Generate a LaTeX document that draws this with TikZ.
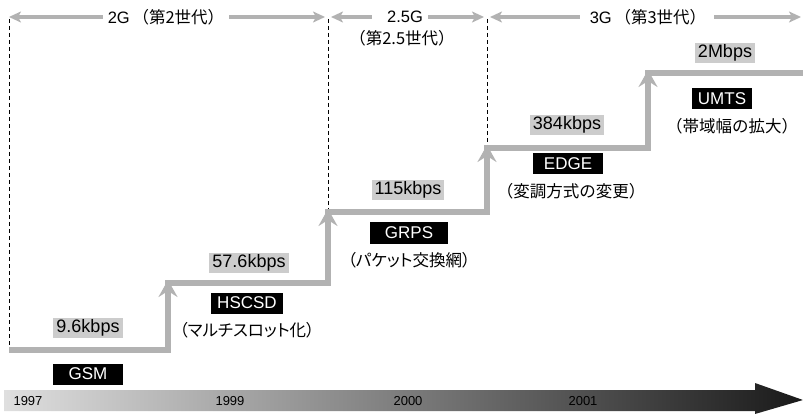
\documentclass[tikz,border=0pt]{standalone}
\usepackage{fontspec}
\setmainfont{Liberation Sans}
\newfontfamily\jp{Noto Sans CJK JP}
\newfontfamily\jpprop[RawFeature=+palt]{Noto Sans CJK JP}
\usetikzlibrary{calc, positioning}
\usetikzlibrary{arrows.meta}

\begin{document}
\begin{tikzpicture}[x=1pt,y=-1pt,
  band/.style={draw=gray!60, line width=6pt},
  riserhead/.style={draw=gray!60, line width=6pt, -{Stealth[length=17pt,width=19pt,inset=6pt]}},
  eraarrow/.style={draw=gray!60, line width=4.5pt, -{Stealth[length=12pt,width=11pt,inset=3pt]}},
  divider/.style={black, line width=0.6pt, dash pattern=on 4pt off 3pt},
  rate/.style={fill=gray!40, inner xsep=3pt, inner ysep=0pt, minimum height=20pt, font=\fontsize{18}{18}\selectfont},
  system/.style={fill=black, text=white, inner xsep=6pt, inner ysep=0pt, minimum height=21pt, minimum width=70pt, font=\fontsize{17}{17}\selectfont},
  note/.style={inner sep=0pt, font=\jp\fontsize{16.5}{16.5}\selectfont},
  kananote/.style={inner sep=0pt, font=\jpprop\fontsize{16.5}{16.5}\selectfont},
  era/.style={inner sep=0pt, font=\fontsize{16.5}{18}\selectfont, align=center},
  year/.style={inner sep=0pt, font=\fontsize{13}{13}\selectfont}]
\useasboundingbox (0,0) rectangle (803,414);

% staircase corners
\coordinate (S0) at (9,350);
\coordinate (S1) at (168,350);
\coordinate (S2) at (168,283);
\coordinate (S3) at (328,283);
\coordinate (S4) at (328,212);
\coordinate (S5) at (487,212);
\coordinate (S6) at (487,148);
\coordinate (S7) at (648,148);
\coordinate (S8) at (648,73);
\coordinate (S9) at (806,73);

% tops of the era dividers
\coordinate (T0) at (9,19);
\coordinate (T1) at (328,19);
\coordinate (T2) at (487,19);
\coordinate (T3) at (801,17);

% time axis
\shade[left color=gray!25, middle color=gray!50, right color=black!90]
  (4,390) -- (755,390) -- (755,383) -- (803,400) -- (755,414) -- (755,411) -- (4,411) -- cycle;
\node[year] (y97) at (28,401) {1997};
\node[year] (y99) at (230,401) {1999};
\node[year] (y00) at (408,401) {2000};
\node[year] (y01) at (583,401) {2001};

% era dividers
\draw[divider] (T0) -- (S0);
\draw[divider] (T1) -- (S4);
\draw[divider] (T2) -- (S6);

% staircase
\draw[band, line join=miter] (S0) -- (S1) -- (S2) -- (S3) -- (S4) -- (S5) -- (S6) -- (S7) -- (S8) -- (S9);
\draw[riserhead] ($(S1)+(0,-30)$) -- ($(S2)+(0,-3)$);
\draw[riserhead] ($(S3)+(0,-30)$) -- ($(S4)+(0,-3)$);
\draw[riserhead] ($(S5)+(0,-30)$) -- ($(S6)+(0,-3)$);
\draw[riserhead] ($(S7)+(0,-30)$) -- ($(S8)+(0,-3)$);

% eras
\node[era] (g2) at (166,17) {2G\,{\jp（第2世代）}};
\node[era] (g25) at (405,17) {2.5G};
\node[era] (g25b) at (402,38) {{\jp（第2.5世代）}};
\node[era] (g3) at (648,17) {3G\,{\jp（第3世代）}};
\draw[eraarrow, shorten <=5pt] (g2.west) -- (T0 |- g2);
\draw[eraarrow, shorten <=5pt, shorten >=3pt] (g2.east) -- (T1 |- g2);
\draw[eraarrow, shorten <=15pt, shorten >=3pt] (g25.west) -- (T1 |- g25);
\draw[eraarrow, shorten <=5pt, shorten >=3pt] (g25.east) -- (T2 |- g25);
\draw[eraarrow, shorten <=10pt, shorten >=3pt] (g3.west) -- (T2 |- g3);
\draw[eraarrow, shorten <=8pt] (g3.east) -- (T3);

% systems
\node[rate] (r1) at (88,328) {9.6kbps};
\node[system] (gsm) at (88,374) {GSM};
\node[rate] (r2) at (249,263) {57.6kbps};
\node[system] (hscsd) at (247,303) {HSCSD};
\node[kananote, below=8pt of hscsd] (n2) {（マルチスロット化）};
\node[rate] (r3) at (408,190) {115kbps};
\node[system, minimum width=78pt] (grps) at (409,233) {GRPS};
\node[kananote, below=8pt of grps] (n3) {（パケット交換網）};
\node[rate] (r4) at (567,125) {384kbps};
\node[system] (edge) at (568,164) {EDGE};
\node[note, below=8pt of edge, xshift=3pt] (n4) {（変調方式の変更）};
\node[rate] (r5) at (725,53) {2Mbps};
\node[system, minimum width=60pt] (umts) at (722,99) {UMTS};
\node[note, below=8pt of umts, xshift=10pt] (n5) {（帯域幅の拡大）};
\end{tikzpicture}
\end{document}
